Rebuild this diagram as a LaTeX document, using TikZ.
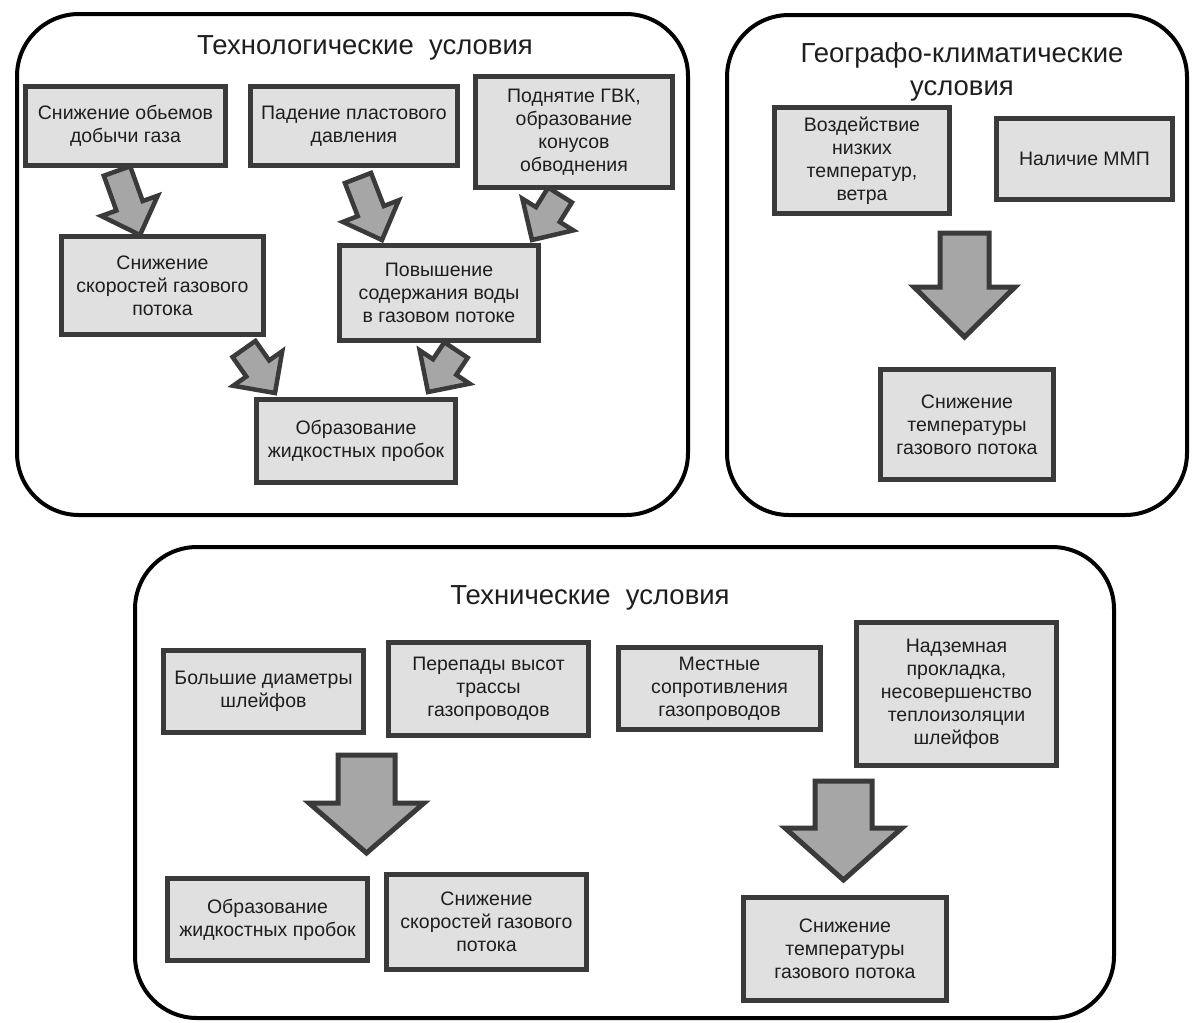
\documentclass[tikz,border=0pt]{standalone}
\usepackage{fontspec}
\setmainfont{Liberation Sans}
\usetikzlibrary{calc}
\definecolor{boxfill}{HTML}{E0E0E0}
\definecolor{boxline}{HTML}{3A3A3A}
\definecolor{arrfill}{HTML}{A6A6A6}
\definecolor{txt}{HTML}{1E1E1E}
\tikzset{
  frame/.style={draw=black, line width=4pt, rounded corners=62pt, minimum width=#1},
  cbox/.style={draw=boxline, line width=5pt, fill=boxfill, align=center, inner sep=1pt,
    text=txt, font=\fontsize{19.5}{23}\selectfont},
  ttl/.style={align=center, text=txt, font=\fontsize{27.5}{33}\selectfont},
  barrow/.style={draw=boxline, fill=arrfill, line width=4.5pt, line join=miter},
}
\newcommand{\blockarrow}[6][]{%
  \coordinate (ba-n) at ($(#3)!#6!(#2)$);
  \draw[barrow,#1] ($(#2)!#4!90:(#3)$) -- ($(ba-n)!#4!90:(#3)$) -- ($(ba-n)!#5!90:(#3)$)
    -- (#3) -- ($(ba-n)!#5!-90:(#3)$) -- ($(ba-n)!#4!-90:(#3)$) -- ($(#2)!#4!-90:(#3)$) -- cycle;
}
\begin{document}
\begin{tikzpicture}[x=1pt,y=-1pt]
\useasboundingbox (0,0) rectangle (1192,1023);
\fill[white] (0,0) rectangle (1192,1023);

% frames
\node[frame=671, minimum height=501] (tech) at (352.5,264.5) {};
\node[frame=460, minimum height=500] (geo) at (957,265) {};
\node[frame=979, minimum height=471] (techn) at (624.5,782.5) {};

% titles
\node[ttl] (t1) at (365,48) {Технологические~~условия};
\node[ttl] (t2) at (962,72) {Географо-климатические\\условия};
\node[ttl] (t3) at (590,598) {Технические~~условия};

% arrow coordinates
\coordinate (ad-s) at (117,171);  \coordinate (ad-e) at (140,235);
\coordinate (be-s) at (358,178);  \coordinate (be-e) at (382,240);
\coordinate (ce-s) at (560,195);  \coordinate (ce-e) at (532,240);
\coordinate (df-s) at (244,349);  \coordinate (df-e) at (275,393);
\coordinate (ef-s) at (456,350);  \coordinate (ef-e) at (428,392);
\coordinate (gi-s) at (964.5,233); \coordinate (gi-e) at (964.5,337);
\coordinate (jn-s) at (366.5,755); \coordinate (jn-e) at (366.5,853);
\coordinate (mp-s) at (843.5,781); \coordinate (mp-e) at (843.5,880);

\blockarrow{ad-s}{ad-e}{14pt}{30pt}{31pt}
\blockarrow{be-s}{be-e}{14pt}{30pt}{31pt}
\blockarrow{ce-s}{ce-e}{14pt}{30pt}{30pt}
\blockarrow{df-s}{df-e}{14pt}{30pt}{30pt}
\blockarrow{ef-s}{ef-e}{14pt}{30pt}{30pt}
\blockarrow[line width=5pt]{gi-s}{gi-e}{24.5pt}{50.5pt}{50pt}
\blockarrow[line width=5pt]{jn-s}{jn-e}{28.5pt}{57.5pt}{50pt}
\blockarrow[line width=5pt]{mp-s}{mp-e}{28.5pt}{58.5pt}{52pt}

% technological
\node[cbox, minimum width=200, minimum height=79] (A) at (125.5,126) {Снижение обьемов\\добычи газа};
\node[cbox, minimum width=207, minimum height=79] (B) at (354,126) {Падение пластового\\давления};
\node[cbox, minimum width=197, minimum height=111] (C) at (574,132) {Поднятие ГВК,\\образование\\конусов\\обводнения};
\node[cbox, minimum width=202, minimum height=98] (D) at (162.5,285.5) {Снижение\\скоростей газового\\потока};
\node[cbox, minimum width=199, minimum height=95] (E) at (439,293) {Повышение\\содержания воды\\в газовом потоке};
\node[cbox, minimum width=199, minimum height=83] (F) at (356,441) {Образование\\жидкостных пробок};

% geo
\node[cbox, minimum width=175, minimum height=106] (G) at (862,160.5) {Воздействие\\низких\\температур,\\ветра};
\node[cbox, minimum width=176, minimum height=81] (H) at (1084.5,159) {Наличие ММП};
\node[cbox, minimum width=173, minimum height=110] (I) at (967,424.5) {Снижение\\температуры\\газового потока};

% technical
\node[cbox, minimum width=200, minimum height=82] (J) at (263.5,691.5) {Большие диаметры\\шлейфов};
\node[cbox, minimum width=200, minimum height=93] (K) at (488.5,689) {Перепады высот\\трассы\\газопроводов};
\node[cbox, minimum width=202, minimum height=82] (L) at (719.5,688.5) {Местные\\сопротивления\\газопроводов};
\node[cbox, minimum width=200, minimum height=143] (M) at (956.5,694) {Надземная\\прокладка,\\несовершенство\\теплоизоляции\\шлейфов};
\node[cbox, minimum width=200, minimum height=82] (N) at (267.5,919.5) {Образование\\жидкостных пробок};
\node[cbox, minimum width=200, minimum height=95] (O) at (486.5,922) {Снижение\\скоростей газового\\потока};
\node[cbox, minimum width=203, minimum height=103] (P) at (845,949) {Снижение\\температуры\\газового потока};
\end{tikzpicture}
\end{document}
